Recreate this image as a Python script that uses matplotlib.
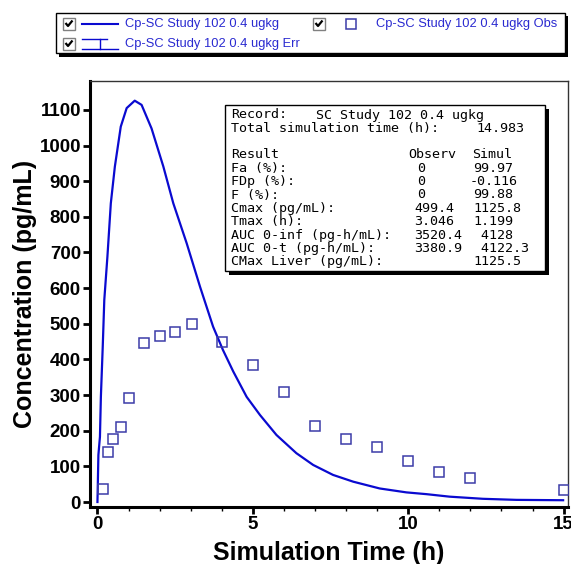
import matplotlib
matplotlib.use('Agg')
import matplotlib.pyplot as plt
from matplotlib.patches import Rectangle
from matplotlib.ticker import MultipleLocator

# simulated curve
sim_t = [0, 0.03, 0.08, 0.11, 0.17, 0.22, 0.32, 0.43, 0.56, 0.75, 0.94, 1.199, 1.42, 1.74,
         2.12, 2.44, 2.87, 3.30, 3.72, 4.04, 4.37, 4.80, 5.23, 5.76, 6.40, 6.94, 7.58,
         8.23, 9.08, 9.94, 10.59, 11.33, 12.4, 13.48, 14.983]
sim_c = [0, 132, 183, 295, 436, 567, 688, 838, 941, 1053, 1105, 1125.8, 1114, 1048,
         941, 838, 726, 604, 492, 426, 366, 295, 244, 188, 137, 104, 76,
         57, 38, 27, 22, 15, 9, 6, 5]

# observed
obs_t = [0.17, 0.33, 0.5, 0.75, 1.0, 1.5, 2.0, 2.5, 3.046, 4.0, 5.0, 6.0, 7.0, 8.0,
         9.0, 10.0, 11.0, 12.0, 15.0]
obs_c = [37, 139, 177, 210, 293, 445, 467, 476, 499.4, 449, 385, 309, 214, 177,
         153, 115, 84, 68, 35]

series_names = ['Cp-SC Study 102 0.4 ugkg', 'Cp-SC Study 102 0.4 ugkg Err',
                'Cp-SC Study 102 0.4 ugkg Obs']

record = 'SC Study 102 0.4 ugkg'
sim_time = '14.983'
result_labels = ['Fa (%):', 'FDp (%):', 'F (%):', 'Cmax (pg/mL):', 'Tmax (h):',
                 'AUC 0-inf (pg-h/mL):', 'AUC 0-t (pg-h/mL):', 'CMax Liver (pg/mL):']
observ_vals = ['0', '0', '0', '499.4', '3.046', '3520.4', '3380.9', '']
simul_vals = ['99.97', '-0.116', '99.88', '1125.8', '1.199', ' 4128', ' 4122.3', '1125.5']

line_col = '#0a0ad0'
obs_col = '#3c3ca8'
txt_col = '#2a2ad0'

plt.rcParams['font.family'] = ['Liberation Sans', 'DejaVu Sans']

W, H = 571, 564
fig = plt.figure(figsize=(W / 100, H / 100), dpi=100)
ax = fig.add_axes([90 / W, 1 - 507 / H, (568 - 90) / W, (507 - 81) / H])

ax.plot(sim_t, sim_c, color=line_col, linewidth=1.6, zorder=3)
ax.plot(obs_t, obs_c, linestyle='none', marker='s', markersize=7.5,
        markerfacecolor='none', markeredgecolor=obs_col, markeredgewidth=1.1, zorder=4)

ax.set_xlim(-0.24, 15.14)
ax.set_ylim(-14, 1181)
ax.xaxis.set_major_locator(MultipleLocator(5))
ax.xaxis.set_minor_locator(MultipleLocator(1))
ax.yaxis.set_major_locator(MultipleLocator(100))
ax.tick_params(axis='both', which='major', direction='out', length=5, width=2,
               labelsize=13.5, pad=1.5)
ax.tick_params(axis='x', which='minor', direction='out', length=3, width=1)
for lab in ax.get_xticklabels() + ax.get_yticklabels():
    lab.set_fontweight('bold')
for s in ['left', 'bottom']:
    ax.spines[s].set_linewidth(2.2)
for s in ['top', 'right']:
    ax.spines[s].set_linewidth(1)
    ax.spines[s].set_color('#333333')

ax.set_xlabel('Simulation Time (h)', fontsize=18, fontweight='bold', labelpad=5.5)
ax.set_ylabel('Concentration (pg/mL)', fontsize=18, fontweight='bold', labelpad=2)

# overlay in pixel coordinates for legend and info box
ov = fig.add_axes([0, 0, 1, 1], zorder=10)
ov.set_xlim(0, W)
ov.set_ylim(H, 0)
ov.axis('off')
ov.patch.set_alpha(0)


def checkbox(x, y):
    ov.add_patch(Rectangle((x - 6, y - 6), 12, 12, facecolor='white',
                           edgecolor='#808080', linewidth=1))
    ov.plot([x - 3.5, x - 1, x + 3.5], [y - 0.5, y + 2.5, y - 3], color='black',
            linewidth=1.6, solid_capstyle='butt')


# legend box
ov.add_patch(Rectangle((59, 16), 509, 41, facecolor='black', edgecolor='none'))
ov.add_patch(Rectangle((56, 13), 509, 40, facecolor='white', edgecolor='black', linewidth=1))
checkbox(69, 23.5)
ov.plot([82, 118], [23.5, 23.5], color=line_col, linewidth=1.5)
ov.text(125, 23.5, series_names[0], color=txt_col, fontsize=9.3, va='center', ha='left')
checkbox(69, 43.5)
ov.plot([82, 107], [38.5, 38.5], color=line_col, linewidth=1)
ov.plot([100, 100], [38.5, 49], color=line_col, linewidth=1)
ov.plot([82, 118], [49, 49], color=line_col, linewidth=1)
ov.text(125, 43.5, series_names[1], color=txt_col, fontsize=9.3, va='center', ha='left')
checkbox(319, 23.5)
ov.plot([351], [23.5], marker='s', markersize=6.5, markerfacecolor='none',
        markeredgecolor=obs_col, markeredgewidth=1.1)
ov.text(376, 23.5, series_names[2], color=txt_col, fontsize=9.3, va='center', ha='left')

# info box
ov.add_patch(Rectangle((229, 109), 320, 166, facecolor='black', edgecolor='none'))
ov.add_patch(Rectangle((225, 105), 320, 166, facecolor='white', edgecolor='black', linewidth=1))
mono = dict(family='DejaVu Sans Mono', fontsize=9.6, va='center', ha='left', color='black')
ov.text(231, 115, 'Record:', **mono)
ov.text(316, 115, record, **mono)
ov.text(231, 128.3, 'Total simulation time (h):', **mono)
ov.text(476, 128.3, sim_time, **mono)
ov.text(231, 155, 'Result', **mono)
ov.text(408, 155, 'Observ', **mono)
ov.text(472, 155, 'Simul', **mono)
for i, (lab, o, s) in enumerate(zip(result_labels, observ_vals, simul_vals)):
    y = 168.3 + i * 13.35
    ov.text(231, y, lab, **mono)
    ox = 417 if o == '0' else 414
    ov.text(ox, y, o, **mono)
    sx = 470 if s.startswith('-') else 473
    ov.text(sx, y, s, **mono)

fig.savefig('out.png', dpi=100)
